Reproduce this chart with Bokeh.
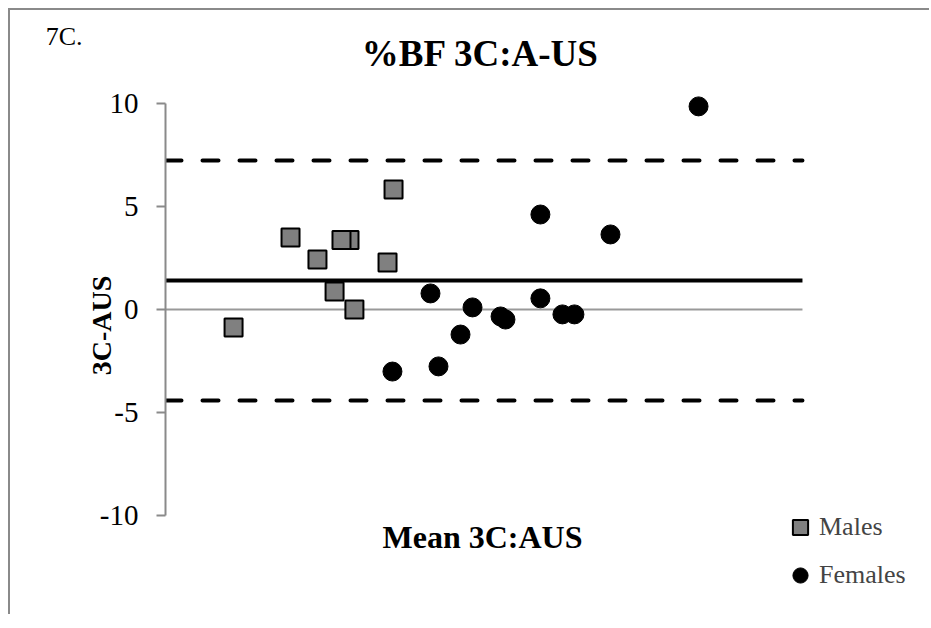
import numpy as np
from bokeh.plotting import figure
from bokeh.models import (Range1d, FixedTicker, Label, Legend, LegendItem,
                          LinearAxis, Title)
from bokeh.embed import file_html
from bokeh.resources import INLINE

# ---- data (x = mean, y = difference 3C - AUS) ----
male_mean = [13.74, 16.87, 18.35, 19.29, 20.11, 19.67, 20.38, 22.20, 22.53]
male_diff = [-0.88, 3.50, 2.43, 0.88, 3.38, 3.38, 0.00, 2.29, 5.84]

female_mean = [22.47, 24.56, 25.00, 26.21, 26.87, 28.41, 28.68, 30.60, 30.60,
               31.81, 32.47, 34.45, 39.29]
female_diff = [-3.02, 0.78, -2.77, -1.22, 0.10, -0.34, -0.49, 0.54, 4.62,
               -0.24, -0.24, 3.65, 9.88]

mean_bias = 1.41
upper_loa = 7.25
lower_loa = -4.43
line_x = [10, 45]
y_ticks = [-10, -5, 0, 5, 10]
y_tick_labels = {-10: "-10", -5: "-5", 0: "0", 5: "5", 10: "10"}

FONT = "Liberation Serif"

p = figure(width=921, height=606, output_backend="svg", toolbar_location=None,
           x_axis_location=None, title=None,
           x_range=Range1d(10, 51.98), y_range=Range1d(-14.84, 13.28),
           min_border_left=155, min_border_right=2, min_border_top=26,
           min_border_bottom=2)
p.styles = {"margin-left": "10px", "margin-top": "10px",
            "box-shadow": "-2px -2px 0px 0px #8a8a8a"}
p.outline_line_color = None
p.xgrid.visible = False
p.ygrid.visible = False
p.background_fill_color = "white"
p.border_fill_color = "white"

ax = p.yaxis[0]
ax.ticker = FixedTicker(ticks=y_ticks)
ax.major_label_overrides = y_tick_labels
ax.bounds = (-10, 10)
ax.axis_line_color = "#8a8a8a"
ax.axis_line_width = 2
ax.major_tick_line_color = "#8a8a8a"
ax.major_tick_line_width = 2
ax.major_tick_out = 9
ax.major_tick_in = 0
ax.minor_tick_line_color = None
ax.major_label_text_font = FONT
ax.major_label_text_font_size = "29px"
ax.major_label_text_color = "black"
ax.major_label_standoff = 18
ax.axis_label = "3C-AUS"
ax.axis_label_text_font = FONT
ax.axis_label_text_font_size = "28px"
ax.axis_label_text_font_style = "bold"
ax.axis_label_text_color = "black"
ax.axis_label_standoff = -20

# panel tag "7C."
if "axis_label_align" in LinearAxis.properties():
    tag_axis = LinearAxis(ticker=FixedTicker(ticks=[]),
                          axis_line_color=None, major_tick_line_color=None,
                          minor_tick_line_color=None,
                          major_label_text_font_size="0px",
                          axis_label="7C.", axis_label_orientation="horizontal",
                          axis_label_standoff=0, axis_label_text_font=FONT,
                          axis_label_text_font_size="26px",
                          axis_label_text_font_style="normal",
                          axis_label_text_color="black",
                          axis_label_align="end")
    p.add_layout(tag_axis, "left")
else:
    tag = Title(text="7C.", text_font=FONT, text_font_size="26px",
                text_font_style="normal", text_color="black", align="left",
                offset=-115, standoff=0)
    p.add_layout(tag, "above")

# zero line (horizontal axis)
p.line(line_x, [0, 0], line_color="#999999", line_width=2)
# bias and limits of agreement
p.line(line_x, [mean_bias, mean_bias], line_color="black", line_width=4)
p.line(line_x, [upper_loa, upper_loa], line_color="black", line_width=4,
       line_dash="16 21", line_cap="round")
p.line(line_x, [lower_loa, lower_loa], line_color="black", line_width=4,
       line_dash="16 21", line_cap="round")

r_m = p.scatter(male_mean, male_diff, marker="square", size=18,
                fill_color="#808080", line_color="black", line_width=2)
r_f = p.scatter(female_mean, female_diff, marker="circle", size=19,
                fill_color="black", line_color="black")

legend = Legend(items=[LegendItem(label="Males", renderers=[r_m]),
                       LegendItem(label="Females", renderers=[r_f])],
                location=(616, 20), orientation="vertical")
legend.label_text_font = FONT
legend.label_text_font_size = "26px"
legend.glyph_width = 38
legend.glyph_height = 38
legend.label_height = 30
legend.label_standoff = 0
legend.spacing = 10
legend.padding = 0
legend.margin = 0
legend.border_line_color = None
legend.background_fill_alpha = 0
p.add_layout(legend)

p.add_layout(Label(x=27.31, y=12.45, text="%BF 3C:A-US", text_font=FONT,
                   text_font_size="37px", text_font_style="bold",
                   text_color="black",
                   text_align="center", text_baseline="middle"))
p.add_layout(Label(x=27.42, y=-11.09, text="Mean 3C:AUS", text_font=FONT,
                   text_font_size="32px", text_font_style="bold",
                   text_color="black",
                   text_align="center", text_baseline="middle"))

open("out.html", "w").write(file_html(p, INLINE))
